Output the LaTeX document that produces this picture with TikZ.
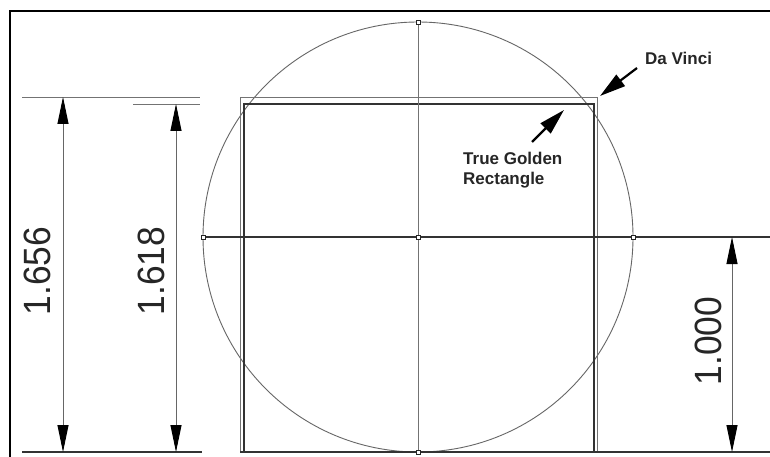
\documentclass[tikz,border=0pt]{standalone}
\usepackage{fontspec}
\setmainfont{Liberation Sans}
\usetikzlibrary{arrows.meta}
\begin{document}
\begin{tikzpicture}[x=1pt,y=-1pt,
  frame/.style={draw=black, line width=2pt},
  thinl/.style={draw=black!55, line width=0.9pt},
  darkl/.style={draw=black!80, line width=1.4pt},
  circl/.style={draw=black!60, line width=0.9pt},
  dimarrow/.style={draw=black!60, line width=0.9pt,
    {Triangle[length=27pt,width=11pt,color=black]}-{Triangle[length=27pt,width=11pt,color=black]}},
  pointer/.style={draw=black, line width=2.2pt, -{Triangle[length=26pt,width=14pt,color=black]}},
  dimtext/.style={rotate=90, inner sep=0pt, text=black!85, font=\fontsize{38}{38}\selectfont, xscale=0.93},
  lbl/.style={inner sep=0pt, text=black!85, font=\bfseries\fontsize{17}{20}\selectfont, align=left},
  mark/.style={}, 
  qpt/.style={draw=black!85, fill=white, line width=0.7pt, rectangle, minimum size=4pt, inner sep=0pt}
]
\useasboundingbox (0,0) rectangle (770,457);
\fill[white] (0,0) rectangle (770,457);
% frame
\coordinate (FTR) at (770,11);
\coordinate (FTL) at (9.5,11);
\coordinate (FBL) at (9.5,457);
\draw[frame] (FTR) -- (FTL) -- (FBL);
% key points
\coordinate (C) at (418,237);
\coordinate (T) at (418,22);
\coordinate (B) at (418,452);
\coordinate (L) at (203,237);
\coordinate (R) at (633,237);
\coordinate (HE) at (770,237);
% circle
\draw[circl] (C) circle[radius=215];
% rectangles
\coordinate (DVtl) at (240,97);
\coordinate (DVbr) at (597,452);
\coordinate (GRtl) at (244,104);
\coordinate (GRbr) at (594,452);
\draw[thinl] (DVtl) rectangle (DVbr);
\draw[darkl] (GRtl) rectangle (GRbr);
% axes
\draw[thinl] (T) -- (B);
\draw[darkl] (L) -- (HE);
\coordinate (BL) at (240,452);
\coordinate (BR) at (770,452);
\draw[darkl] (BL) -- (BR);
% left extension lines
\coordinate (e1a) at (22,97);  \coordinate (e1b) at (200,97);
\coordinate (e2a) at (133,104); \coordinate (e2b) at (200,104);
\coordinate (e3a) at (22,452); \coordinate (e3b) at (202,452);
\draw[thinl] (e1a) -- (e1b);
\draw[thinl] (e2a) -- (e2b);
\draw[darkl] (e3a) -- (e3b);
% dimension arrows
\coordinate (d1t) at (63,97);  \coordinate (d1b) at (63,452);
\coordinate (d2t) at (176,104); \coordinate (d2b) at (176,452);
\coordinate (d3t) at (732,237); \coordinate (d3b) at (732,452);
\draw[dimarrow] (d1t) -- (d1b);
\draw[dimarrow] (d2t) -- (d2b);
\draw[dimarrow] (d3t) -- (d3b);
% dimension texts
\node[dimtext] (t1) at (37,271) {1.656};
\node[dimtext] (t2) at (151,271) {1.618};
\node[dimtext] (t3) at (708,341) {1.000};
% quadrant markers
\node[qpt] (qT) at (T) {};
\node[qpt] (qB) at (B) {};
\node[qpt] (qL) at (L) {};
\node[qpt] (qR) at (R) {};
\node[qpt] (qC) at (C) {};
% labels
\node[lbl, anchor=base west] (dv) at (645,65) {Da Vinci};
\node[lbl, anchor=north west] (gr) at (463,152) {True Golden\\Rectangle};
\coordinate (dvtail) at (637,68); \coordinate (dvtip) at (600,96);
\coordinate (grtail) at (532,142); \coordinate (grtip) at (564,110);
\draw[pointer] (dvtail) -- (dvtip);
\draw[pointer] (grtail) -- (grtip);
\end{tikzpicture}
\end{document}
